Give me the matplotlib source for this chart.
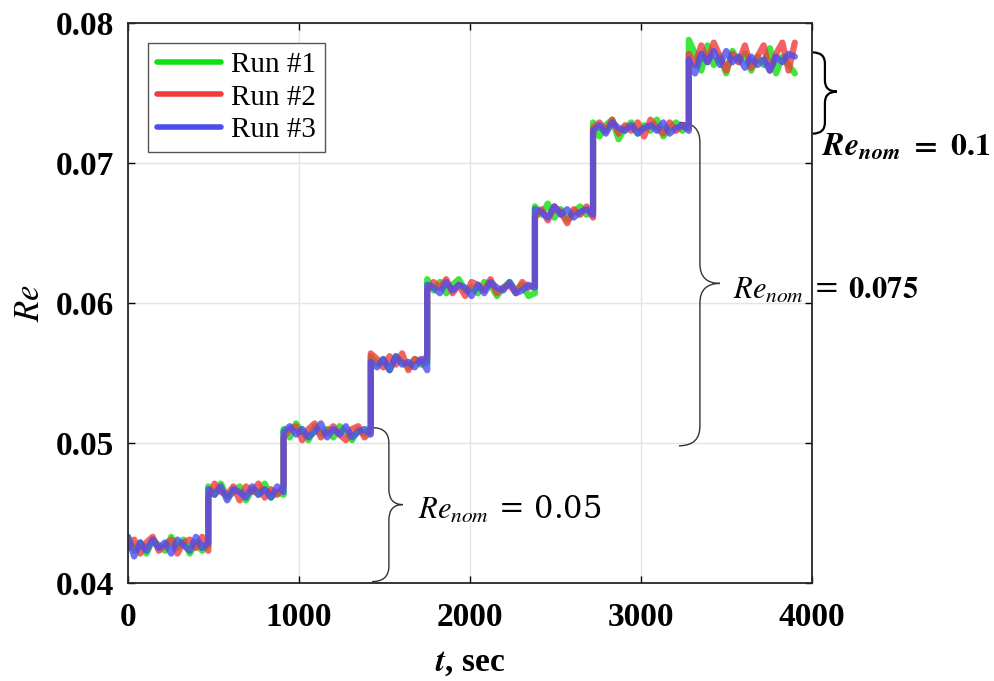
import numpy as np
import matplotlib
matplotlib.use('Agg')
import matplotlib.pyplot as plt
from matplotlib.path import Path
from matplotlib.patches import PathPatch

plt.rcParams['font.family'] = ['Liberation Serif', 'DejaVu Serif']
plt.rcParams['mathtext.fontset'] = 'stix'

# step edges (sec) and mean Re on each plateau
step_edges = [0, 470, 910, 1420, 1750, 2380, 2720, 3280, 3900]
step_levels = [0.0427, 0.0465, 0.0508, 0.0558, 0.0611, 0.0665, 0.0725, 0.0774]

# fluctuation about each plateau, units of 2e-4
run1_jitter = [
    [3, -2, 1, -3, 2, 0, -2, 3, -1, 2, -3, 1, -2, 0],
    [2, -1, 3, -2, 0, 2, -3, 1, -1, 3, -2, 0, -1],
    [1, -2, 3, 0, -3, 2, -1, 1, -2, 2, 0, -3, 1, -1, 2],
    [2, -1, 1, -3, 2, 0, -2, 1, -1, 0],
    [3, -1, 2, -2, 1, 3, -1, 0, -2, 2, 1, -3, 0, 2, -1, 1, -3, -2],
    [2, -1, 3, -2, 1, -3, 0, 2, -1, 1],
    [2, -3, 1, 3, -4, 0, 2, -2, 1, -1, 3, -3, 0, 2, -1, 1],
    [7, 2, -4, 5, -2, 1, -5, 3, -1, 2, -4, 1, -2, 4, -5, 1, -2, -5],
]
run2_jitter = [
    [-1, 2, -3, 1, 3, -2, 0, 2, -3, 1, 2, -1, 3, -2],
    [-2, 3, 0, -1, 2, -3, 2, 0, 3, -2, 1, -1, 2],
    [-2, 1, 2, -3, 1, 3, -2, 0, 2, -1, -3, 1, 2, -2, 0],
    [3, 1, -2, 2, -1, 3, -3, 1, 0, 2],
    [-1, 2, 0, 3, -2, 1, -3, 2, 1, -1, 3, -2, 0, 1, -2, 2, 0, 1],
    [-2, 1, -3, 2, 0, -4, 1, -1, 2, -2],
    [0, 2, -1, 3, -2, 1, -1, 2, -3, 3, 0, -2, 2, -1, 1, 0],
    [2, -2, 5, -1, 6, 1, -4, 2, -1, 5, -3, 1, 5, -4, 2, 6, -4, 6],
]
run3_jitter = [
    [3, -4, 1, -2, 2, -1, 1, -3, 2, 0, -2, 3, -1, 1],
    [1, -1, 2, -3, 1, 0, -2, 2, -1, 1, -2, 2, 0],
    [0, 2, -1, 1, -2, 0, 3, -2, 1, -1, 2, -2, 0, 1, -1],
    [0, -2, 1, -3, 2, -1, 0, -2, 1, -3],
    [1, 0, -2, 2, -1, 1, 0, -3, 1, -2, 2, 0, -1, 2, -2, -1, 1, 0],
    [1, 0, -2, 2, -1, 1, -2, 0, 1, -1],
    [-1, 1, -2, 2, 0, -1, 1, -2, 0, 1, -1, 2, -2, 0, 1, -1],
    [0, -5, 2, -1, 3, -2, 3, -1, 1, -3, 1, -2, 0, -4, 1, -1, 2, 1],
]

run_labels = ['Run #1', 'Run #2', 'Run #3']
run_colors = ['#10e010', '#f03c3c', '#4c4cf0']


def build_series(jitter):
    t, re = [], []
    for i, seg in enumerate(jitter):
        ts = np.linspace(step_edges[i], step_edges[i + 1], len(seg))
        t.extend(ts)
        re.extend(step_levels[i] + np.array(seg) * 2e-4)
    return np.array(t), np.array(re)


def brace(ax, x_end, x_mid, x_tip, y_top, y_bot, y_tip, r, **kw):
    verts = [(x_end, y_top), (x_mid, y_top), (x_mid, y_top - r),
             (x_mid, y_tip + r), (x_mid, y_tip), (x_tip, y_tip),
             (x_mid, y_tip), (x_mid, y_tip - r),
             (x_mid, y_bot + r), (x_mid, y_bot), (x_end, y_bot)]
    codes = [Path.MOVETO, Path.CURVE3, Path.CURVE3,
             Path.LINETO, Path.CURVE3, Path.CURVE3,
             Path.CURVE3, Path.CURVE3,
             Path.LINETO, Path.CURVE3, Path.CURVE3]
    ax.add_patch(PathPatch(Path(verts, codes), fill=False, clip_on=False, **kw))


fig = plt.figure(figsize=(9.95, 6.81), dpi=100)
ax = fig.add_axes([0.1286, 0.1439, 0.6874, 0.8223])

for jit, lab, col in zip([run1_jitter, run2_jitter, run3_jitter], run_labels, run_colors):
    t, re = build_series(jit)
    ax.plot(t, re, color=col, lw=4.5, alpha=0.8, label=lab,
            solid_joinstyle='round', solid_capstyle='round')

ax.set_xlim(0, 4000)
ax.set_ylim(0.04, 0.08)
ax.set_xticks([0, 1000, 2000, 3000, 4000])
ax.set_yticks([0.04, 0.05, 0.06, 0.07, 0.08])
ax.set_yticklabels(['0.04', '0.05', '0.06', '0.07', '0.08'])
ax.grid(True, color='#e4e4e4', lw=1)
ax.set_axisbelow(True)
ax.tick_params(direction='in', top=True, right=True, length=5, width=1,
               labelsize=24)
ax.tick_params(axis='x', pad=14)
ax.tick_params(axis='y', pad=10)
for lbl in ax.get_xticklabels() + ax.get_yticklabels():
    lbl.set_fontweight('bold')
for s in ax.spines.values():
    s.set_linewidth(1.3)
    s.set_color('#262626')

ax.set_xlabel(r'$\mathbfit{t}$, sec', fontsize=24, fontweight='bold', labelpad=10)
ax.set_ylabel(r'$Re$', fontsize=25, labelpad=6)

leg = ax.legend(loc='upper left', bbox_to_anchor=(0.029, 0.964), fontsize=21,
                handlelength=2.2, handletextpad=0.35, borderpad=0.3,
                labelspacing=0.2, borderaxespad=0, fancybox=False, framealpha=1,
                edgecolor='#555555')
for h in leg.get_lines():
    h.set_linewidth(4)
    h.set_alpha(1)

# brackets marking the nominal Re groups
brace(ax, 1427, 1526, 1608, 0.0511, 0.0401, 0.0456, 0.0011, lw=1.0, edgecolor='#333333')
brace(ax, 3222, 3345, 3462, 0.0729, 0.0498, 0.0614, 0.0014, lw=1.0, edgecolor='#333333')
brace(ax, 4006, 4076, 4146, 0.0779, 0.0721, 0.0751, 0.0008, lw=1.6, edgecolor='black')

ax.text(1696, 0.0452, r'$Re_{nom}$ = 0.05', fontsize=22, va='center', ha='left',
        family='DejaVu Serif')
ax.text(3538, 0.0609, r'$Re_{nom}$ = $\mathbf{0.075}$', fontsize=22, va='center',
        ha='left', clip_on=False, family='DejaVu Serif')
ax.text(4058, 0.0711, r'$\mathbfit{Re}_{\mathbfit{nom}}\ \mathbf{=\ 0.1}$', fontsize=23,
        va='center', ha='left', clip_on=False)

fig.savefig('out.png', dpi=100)
